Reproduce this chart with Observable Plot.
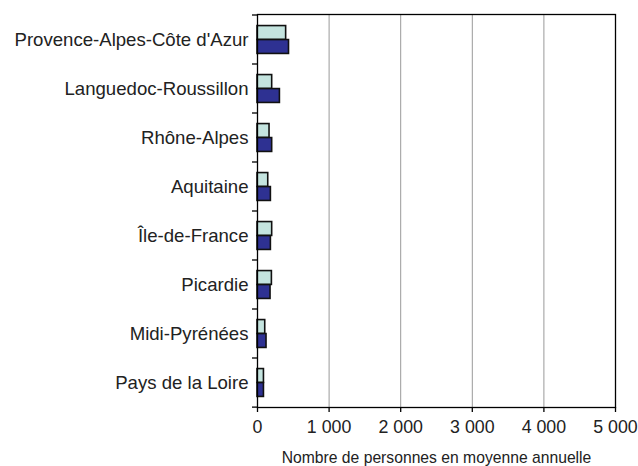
<!DOCTYPE html>
<html><head><meta charset="utf-8">
<script src="https://cdn.jsdelivr.net/npm/d3@7"></script>
<script src="https://cdn.jsdelivr.net/npm/@observablehq/plot@0.6"></script>
<style>body{margin:0;background:#fff}</style>
</head><body><div id="chart"></div>
<script>
const regions = ["Provence-Alpes-Côte d'Azur","Languedoc-Roussillon","Rhône-Alpes","Aquitaine","Île-de-France","Picardie","Midi-Pyrénées","Pays de la Loire"];
const seriesA = [400, 205, 168, 150, 205, 201, 108, 90];   // light bars (top)
const seriesB = [440, 313, 205, 187, 187, 182, 126, 90];   // dark bars (bottom)
const xTicks = [0, 1000, 2000, 3000, 4000, 5000];
const xLabel = "Nombre de personnes en moyenne annuelle";

const dataA = regions.map((r, i) => ({region: r, value: seriesA[i]}));
const dataB = regions.map((r, i) => ({region: r, value: seriesB[i]}));
const fmt = d => d3.format(",")(d).replace(/,/g, "\u00a0");

const W = 638, H = 466, mt = 14, mb = 59, ml = 257, mr = 23;
const step = (H - mt - mb) / regions.length;
const half = 14;

const yTicks = (index, scales, values, dim) => {
  const g = d3.create("svg:g");
  const ys = regions.map(r => scales.y(r)).concat([scales.y(regions[regions.length-1]) + step]);
  for (const y of ys) {
    g.append("line").attr("x1", dim.marginLeft - 5).attr("x2", dim.marginLeft)
      .attr("y1", y).attr("y2", y).attr("stroke", "#000").attr("stroke-width", 1.3);
  }
  return g.node();
};

const chart = Plot.plot({
  width: W, height: H,
  marginTop: mt, marginBottom: mb, marginLeft: ml, marginRight: mr,
  style: {fontFamily: "Liberation Sans, Arial, sans-serif", background: "#fff"},
  x: {domain: [0, 5000], ticks: xTicks, tickFormat: fmt},
  y: {domain: regions, paddingInner: 0, paddingOuter: 0},
  marks: [
    Plot.gridX(xTicks.slice(1, -1), {stroke: "#999", strokeOpacity: 1, strokeWidth: 1}),
    Plot.barX(dataA, {y: "region", x: "value", fill: "#c4e4df", stroke: "#111", strokeWidth: 1.6,
      insetTop: step/2 - half, insetBottom: step/2}),
    Plot.barX(dataB, {y: "region", x: "value", fill: "#2e3192", stroke: "#111", strokeWidth: 1.6,
      insetTop: step/2, insetBottom: step/2 - half}),
    Plot.frame({stroke: "#000", strokeWidth: 1.3}),
    Plot.axisX({ticks: xTicks, tickFormat: fmt, tickSize: 5, tickPadding: 8, fontSize: 17.8, stroke: "#000", strokeWidth: 1.3, label: null, fill: "#222"}),
    Plot.axisY({tickSize: 0, tickPadding: 9, fontSize: 18.6, label: null, fill: "#222"}),
    yTicks,
    Plot.text([xLabel], {frameAnchor: "bottom", dy: 55, fontSize: 15.7, fill: "#222", text: d => d})
  ]
});
document.getElementById("chart").append(chart);
</script>
</body></html>
